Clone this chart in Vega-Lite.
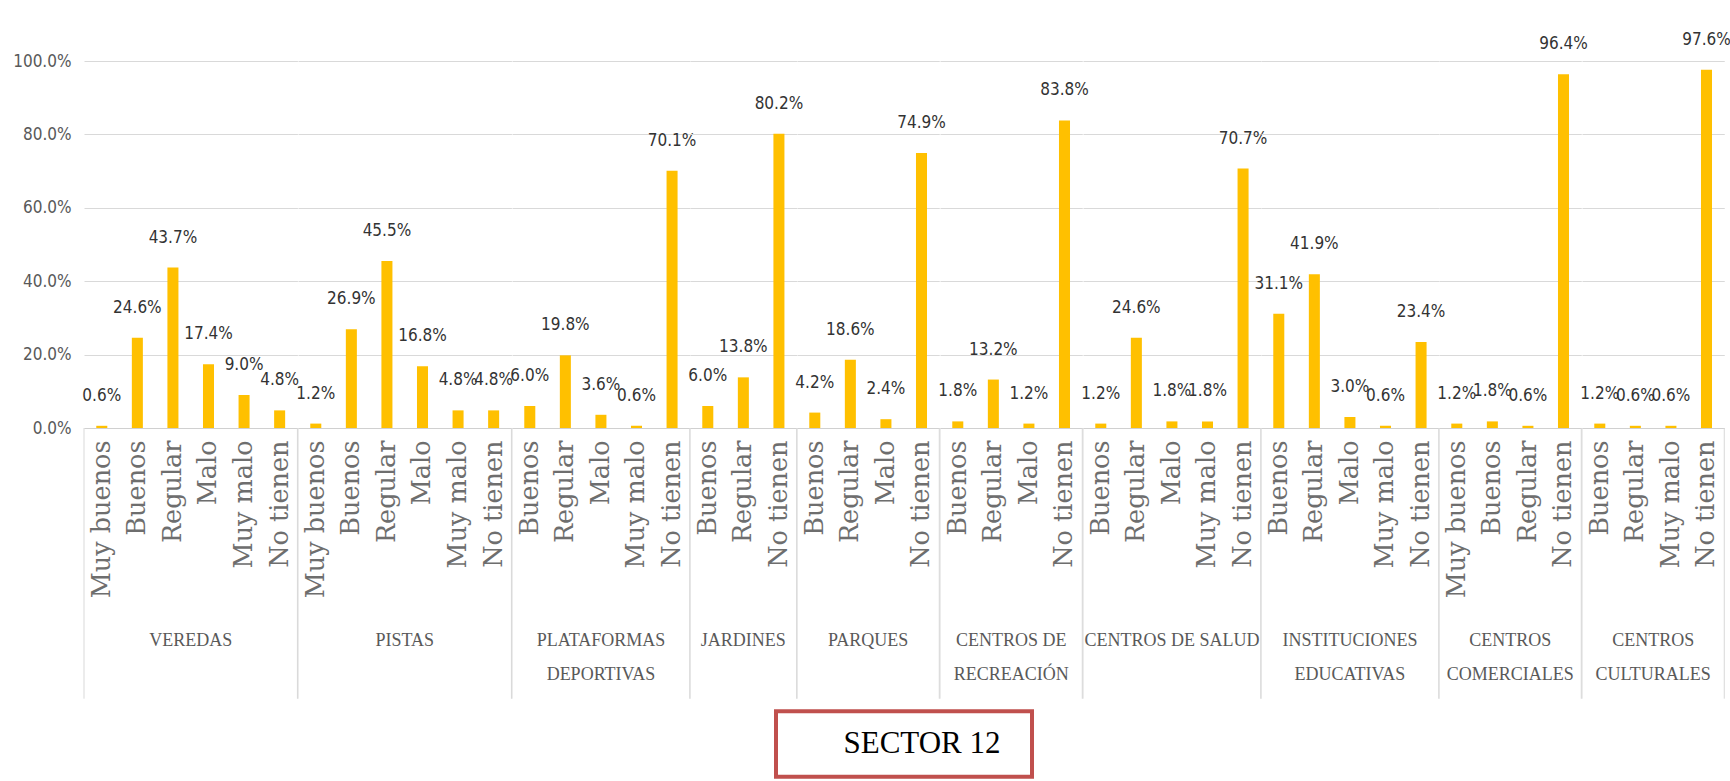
{
  "$schema": "https://vega.github.io/schema/vega-lite/v6.json",
  "background": "white",
  "padding": {"left": 12, "top": 30, "right": 0, "bottom": 0},
  "config": {
    "view": {"stroke": null},
    "concat": {"spacing": 3}
  },
  "vconcat": [
    {
      "data": {
        "values": [
          {"group": "VEREDAS", "cond": "Muy buenos", "v": 0.006},
          {"group": "VEREDAS", "cond": "Buenos", "v": 0.246},
          {"group": "VEREDAS", "cond": "Regular", "v": 0.437},
          {"group": "VEREDAS", "cond": "Malo", "v": 0.174},
          {"group": "VEREDAS", "cond": "Muy malo", "v": 0.090},
          {"group": "VEREDAS", "cond": "No tienen", "v": 0.048},
          {"group": "PISTAS", "cond": "Muy buenos", "v": 0.012},
          {"group": "PISTAS", "cond": "Buenos", "v": 0.269},
          {"group": "PISTAS", "cond": "Regular", "v": 0.455},
          {"group": "PISTAS", "cond": "Malo", "v": 0.168},
          {"group": "PISTAS", "cond": "Muy malo", "v": 0.048},
          {"group": "PISTAS", "cond": "No tienen", "v": 0.048},
          {"group": "PLATAFORMAS DEPORTIVAS", "cond": "Buenos", "v": 0.060},
          {"group": "PLATAFORMAS DEPORTIVAS", "cond": "Regular", "v": 0.198},
          {"group": "PLATAFORMAS DEPORTIVAS", "cond": "Malo", "v": 0.036},
          {"group": "PLATAFORMAS DEPORTIVAS", "cond": "Muy malo", "v": 0.006},
          {"group": "PLATAFORMAS DEPORTIVAS", "cond": "No tienen", "v": 0.701},
          {"group": "JARDINES", "cond": "Buenos", "v": 0.060},
          {"group": "JARDINES", "cond": "Regular", "v": 0.138},
          {"group": "JARDINES", "cond": "No tienen", "v": 0.802},
          {"group": "PARQUES", "cond": "Buenos", "v": 0.042},
          {"group": "PARQUES", "cond": "Regular", "v": 0.186},
          {"group": "PARQUES", "cond": "Malo", "v": 0.024},
          {"group": "PARQUES", "cond": "No tienen", "v": 0.749},
          {"group": "CENTROS DE RECREACIÓN", "cond": "Buenos", "v": 0.018},
          {"group": "CENTROS DE RECREACIÓN", "cond": "Regular", "v": 0.132},
          {"group": "CENTROS DE RECREACIÓN", "cond": "Malo", "v": 0.012},
          {"group": "CENTROS DE RECREACIÓN", "cond": "No tienen", "v": 0.838},
          {"group": "CENTROS DE SALUD", "cond": "Buenos", "v": 0.012},
          {"group": "CENTROS DE SALUD", "cond": "Regular", "v": 0.246},
          {"group": "CENTROS DE SALUD", "cond": "Malo", "v": 0.018},
          {"group": "CENTROS DE SALUD", "cond": "Muy malo", "v": 0.018},
          {"group": "CENTROS DE SALUD", "cond": "No tienen", "v": 0.707},
          {"group": "INSTITUCIONES EDUCATIVAS", "cond": "Buenos", "v": 0.311},
          {"group": "INSTITUCIONES EDUCATIVAS", "cond": "Regular", "v": 0.419},
          {"group": "INSTITUCIONES EDUCATIVAS", "cond": "Malo", "v": 0.030},
          {"group": "INSTITUCIONES EDUCATIVAS", "cond": "Muy malo", "v": 0.006},
          {"group": "INSTITUCIONES EDUCATIVAS", "cond": "No tienen", "v": 0.234},
          {"group": "CENTROS COMERCIALES", "cond": "Muy buenos", "v": 0.012},
          {"group": "CENTROS COMERCIALES", "cond": "Buenos", "v": 0.018},
          {"group": "CENTROS COMERCIALES", "cond": "Regular", "v": 0.006},
          {"group": "CENTROS COMERCIALES", "cond": "No tienen", "v": 0.964},
          {"group": "CENTROS CULTURALES", "cond": "Buenos", "v": 0.012},
          {"group": "CENTROS CULTURALES", "cond": "Regular", "v": 0.006},
          {"group": "CENTROS CULTURALES", "cond": "Muy malo", "v": 0.006},
          {"group": "CENTROS CULTURALES", "cond": "No tienen", "v": 0.976}
        ]
      },
      "transform": [
        {"window": [{"op": "row_number", "as": "rn"}, {"op": "count", "as": "n"}], "groupby": ["group"], "frame": [null, null]}
      ],
      "facet": {
        "column": {
          "field": "group",
          "type": "nominal",
          "sort": ["VEREDAS", "PISTAS", "PLATAFORMAS DEPORTIVAS", "JARDINES", "PARQUES", "CENTROS DE RECREACIÓN", "CENTROS DE SALUD", "INSTITUCIONES EDUCATIVAS", "CENTROS COMERCIALES", "CENTROS CULTURALES"],
          "header": {
            "orient": "bottom",
            "title": null,
            "labelFont": "Liberation Serif",
            "labelFontSize": 18,
            "labelColor": "#595959",
            "labelPadding": 204,
            "labelLineHeight": 34,
            "labelBaseline": "top",
            "labelLimit": 0,
            "labelExpr": "datum.value == 'CENTROS DE SALUD' || indexof(datum.value, ' ') < 0 ? datum.value : [substring(datum.value, 0, lastindexof(datum.value, ' ')), substring(datum.value, lastindexof(datum.value, ' ') + 1)]"
          }
        }
      },
      "spacing": 0,
      "bounds": "flush",
      "resolve": {"scale": {"x": "independent"}},
      "spec": {
        "width": {"step": 35.57},
        "height": 367,
        "encoding": {
          "y": {
            "field": "v",
            "type": "quantitative",
            "scale": {"domain": [0, 1], "nice": false},
            "axis": {
              "values": [0, 0.2, 0.4, 0.6, 0.8, 1],
              "format": ".1%",
              "title": null,
              "domain": false,
              "ticks": false,
              "labelPadding": 13,
              "labelFont": "Liberation Sans Narrow, DejaVu Sans Condensed, Liberation Sans",
              "labelFontSize": 17,
              "labelColor": "#595959",
              "gridColor": "#D9D9D9",
              "gridWidth": 1
            }
          }
        },
        "layer": [
          {
            "mark": {"type": "bar", "color": "#FFC000"},
            "encoding": {
              "x": {
                "field": "cond",
                "type": "nominal",
                "sort": ["Muy buenos", "Buenos", "Regular", "Malo", "Muy malo", "No tienen"],
                "scale": {"type": "band", "paddingInner": 0.69, "paddingOuter": 0.345},
                "axis": {
                  "title": null,
                  "ticks": false,
                  "domainColor": "#D0D0D0",
                  "labelAngle": 270,
                  "labelPadding": 12,
                  "labelFont": "DejaVu Serif",
                  "labelFontSize": 25.5,
                  "labelColor": "#6E6E6E",
                  "labelLimit": 0
                }
              }
            }
          },
          {
            "mark": {"type": "text", "baseline": "middle", "dy": -30, "font": "Liberation Sans Narrow, DejaVu Sans Condensed, Liberation Sans", "fontSize": 17, "color": "#333333"},
            "encoding": {
              "x": {"field": "cond", "type": "nominal", "sort": ["Muy buenos", "Buenos", "Regular", "Malo", "Muy malo", "No tienen"]},
              "text": {"field": "v", "type": "quantitative", "format": ".1%"}
            }
          },
          {
            "transform": [{"filter": "datum.rn == 1"}],
            "mark": {"type": "rule", "color": "#D9D9D9", "strokeWidth": 1},
            "encoding": {
              "x": {"field": "cond", "type": "nominal", "bandPosition": -1.1129, "sort": ["Muy buenos", "Buenos", "Regular", "Malo", "Muy malo", "No tienen"]},
              "y": {"datum": 0},
              "y2": {"datum": -0.7376}
            }
          },
          {
            "transform": [{"filter": "datum.rn == datum.n"}],
            "mark": {"type": "rule", "color": "#D9D9D9", "strokeWidth": 1},
            "encoding": {
              "x": {"field": "cond", "type": "nominal", "bandPosition": 2.1129, "sort": ["Muy buenos", "Buenos", "Regular", "Malo", "Muy malo", "No tienen"]},
              "y": {"datum": 0},
              "y2": {"datum": -0.7376}
            }
          }
        ]
      }
    },
    {
      "data": {"values": [{"label": "SECTOR 12"}]},
      "width": 1640,
      "height": 66,
      "layer": [
        {
          "mark": {"type": "point", "shape": "M-1,-0.255H1V0.255H-1Z", "size": 65536, "filled": false, "stroke": "#C0504D", "strokeWidth": 4, "opacity": 1},
          "encoding": {}
        },
        {
          "mark": {"type": "text", "font": "Liberation Serif", "fontSize": 31, "color": "#000000", "dx": 18, "baseline": "middle"},
          "encoding": {"text": {"field": "label"}}
        }
      ]
    }
  ]
}
